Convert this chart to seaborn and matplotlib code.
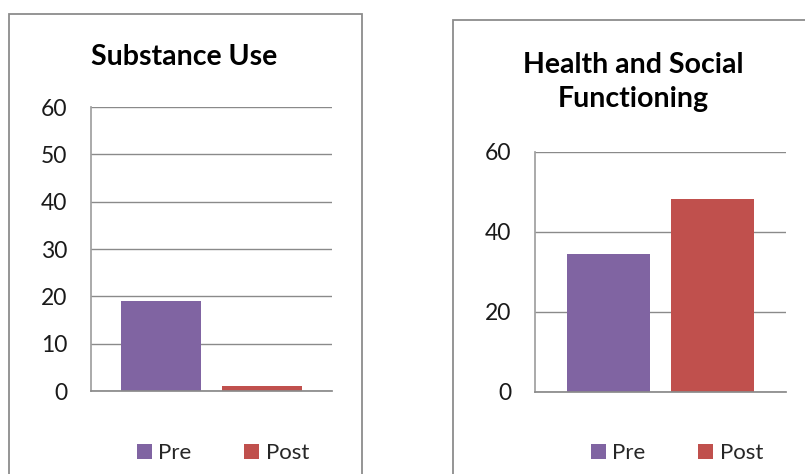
import matplotlib
matplotlib.use("Agg")
import matplotlib.pyplot as plt
import seaborn as sns
import pandas as pd
from matplotlib.patches import Rectangle

sns.set_theme(style="white")
plt.rcParams['font.family'] = ['Lato', 'DejaVu Sans']

# --- datos ---
series = ["Pre", "Post"]
colors = ["#8064A2", "#C0504D"]
substance_use = [19.0, 1.1]
health_social = [34.5, 48.3]
subst_ticks = [0, 10, 20, 30, 40, 50, 60]
health_ticks = [0, 20, 40, 60]

W, H = 805, 474
fig = plt.figure(figsize=(W / 100, H / 100), dpi=100)


def px_axes(x0, y0, x1, y1):
    # coordenadas en pixeles (origen arriba a la izquierda)
    return fig.add_axes([x0 / W, 1 - y1 / H, (x1 - x0) / W, (y1 - y0) / H])


def panel_border(x0, y0, x1, y1):
    fig.patches.append(Rectangle((x0 / W, 1 - y1 / H), (x1 - x0) / W, (y1 - y0) / H,
                                 transform=fig.transFigure, fill=False,
                                 edgecolor="#8c8c8c", linewidth=1.3, zorder=0))


def draw_panel(ax, values, ticks, legend_xy):
    df = pd.DataFrame({"cat": [""] * len(series), "serie": series, "valor": values})
    sns.barplot(data=df, x="cat", y="valor", hue="serie", hue_order=series,
                palette=colors, width=0.83, gap=0.2, saturation=1,
                edgecolor="none", ax=ax)
    ax.set_xlim(-0.5, 0.5)
    ax.set_ylim(ticks[0], ticks[-1])
    ax.set_yticks(ticks)
    ax.set_xticks([])
    ax.set_xlabel("")
    ax.set_ylabel("")
    ax.yaxis.grid(True, color="#8a8a8a", linewidth=1.0)
    ax.set_axisbelow(True)
    for s in ["top", "right"]:
        ax.spines[s].set_visible(False)
    ax.spines["left"].set_color("#a0a0a0")
    ax.spines["bottom"].set_color("#8a8a8a")
    ax.tick_params(axis="y", length=0, pad=17, labelsize=16.5, labelcolor="#1a1a1a")
    sns.move_legend(ax, "center", bbox_to_anchor=legend_xy, ncol=2,
                    frameon=False, fontsize=16, title=None,
                    handlelength=0.68, handleheight=0.68, handletextpad=0.3,
                    columnspacing=2.35)


panel_border(9, 14, 362, 490)
panel_border(453, 20, 830, 490)

ax1 = px_axes(91, 107, 332, 391)
draw_panel(ax1, substance_use, subst_ticks, (0.547, -0.22))
fig.text(184 / W, 1 - 57 / H, "Substance Use", ha="center", va="center",
         fontsize=20.5, fontweight="bold", color="black")

ax2 = px_axes(535, 152, 786, 392)
draw_panel(ax2, health_social, health_ticks, (0.565, -0.255))
fig.text(633 / W, 1 - 82 / H, "Health and Social\nFunctioning", ha="center",
         va="center", fontsize=20.5, fontweight="bold", color="black",
         linespacing=1.4)

fig.savefig("out.png", dpi=100)
